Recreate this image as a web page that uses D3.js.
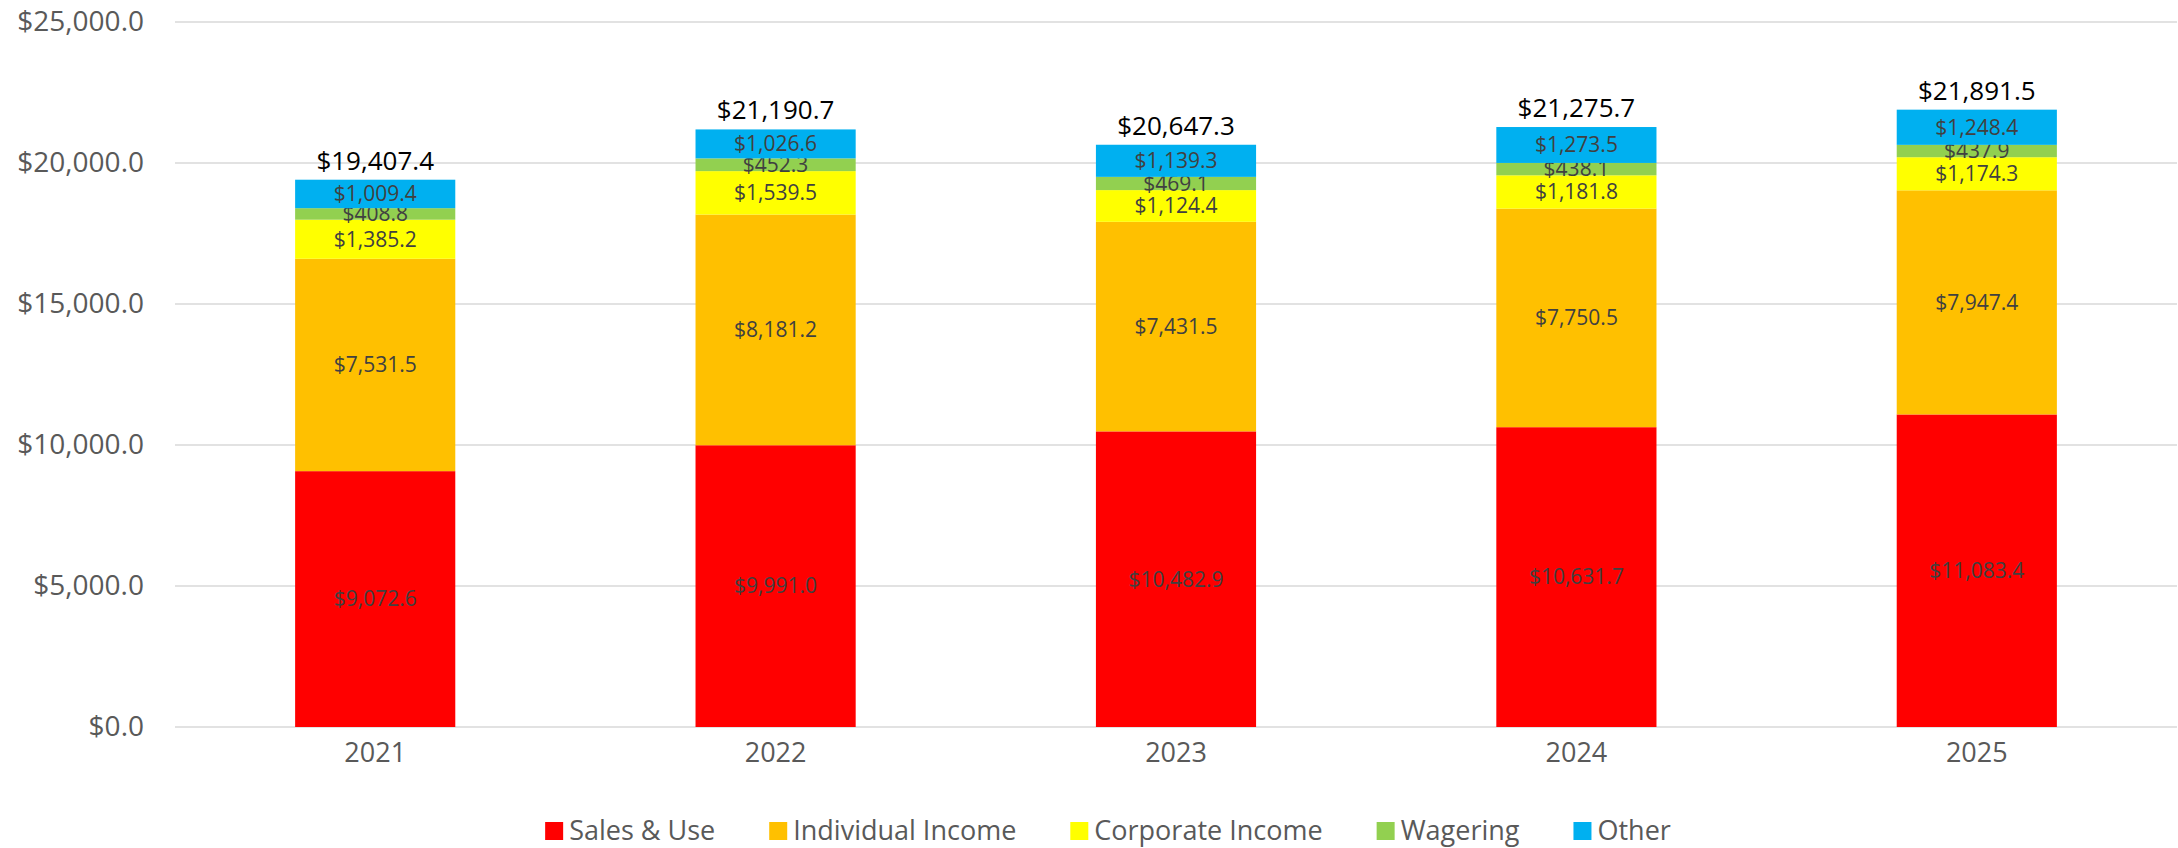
<!DOCTYPE html>
<html>
<head>
<meta charset="utf-8">
<script src="https://cdn.jsdelivr.net/npm/d3@7"></script>
<style>
  body { margin: 0; background: #fff; }
  svg { display: block; font-family: "Open Sans", sans-serif; }
</style>
</head>
<body>
<svg id="chart" width="2178" height="848"></svg>
<script>
const years = ["2021", "2022", "2023", "2024", "2025"];
const seriesNames = ["Sales & Use", "Individual Income", "Corporate Income", "Wagering", "Other"];
const colors = ["#ff0000", "#ffc000", "#ffff00", "#92d050", "#00b0f0"];
const salesUse = [9072.6, 9991.0, 10482.9, 10631.7, 11083.4];
const individualIncome = [7531.5, 8181.2, 7431.5, 7750.5, 7947.4];
const corporateIncome = [1385.2, 1539.5, 1124.4, 1181.8, 1174.3];
const wagering = [408.8, 452.3, 469.1, 438.1, 437.9];
const other = [1009.4, 1026.6, 1139.3, 1273.5, 1248.4];
const totals = [19407.4, 21190.7, 20647.3, 21275.7, 21891.5];
const yTicks = [0, 5000, 10000, 15000, 20000, 25000];

const svg = d3.select("#chart"),
    margin = {top: 22, right: 1, bottom: 121, left: 175},
    width = +svg.attr("width") - margin.left - margin.right,
    height = +svg.attr("height") - margin.top - margin.bottom;

const fmt = d3.format("$,.1f");

const table = years.map((yr, i) => ({
  year: yr,
  "Sales & Use": salesUse[i],
  "Individual Income": individualIncome[i],
  "Corporate Income": corporateIncome[i],
  "Wagering": wagering[i],
  "Other": other[i],
  total: totals[i]
}));

const stack = d3.stack().keys(seriesNames)(table);

const x = d3.scaleBand().domain(years).range([0, width]).paddingInner(0.6).paddingOuter(0.3);
const y = d3.scaleLinear().domain([0, 25000]).range([height, 0]);
const z = d3.scaleOrdinal().domain(seriesNames).range(colors);

const g = svg.append("g").attr("transform", "translate(" + margin.left + "," + margin.top + ")");

// gridlines
g.append("g")
  .selectAll("line")
  .data(yTicks)
  .enter().append("line")
  .attr("x1", 0).attr("x2", width)
  .attr("y1", d => y(d)).attr("y2", d => y(d))
  .attr("stroke", "#d9d9d9")
  .attr("stroke-width", 1.5);

// y axis
const yAxis = g.append("g")
  .call(d3.axisLeft(y).tickValues(yTicks).tickFormat(fmt).tickSize(0).tickPadding(31));
yAxis.select(".domain").remove();
yAxis.selectAll("text")
  .style("font-family", "'Open Sans', sans-serif")
  .style("font-size", "28px")
  .attr("fill", "#595959");

// x axis
const xAxis = g.append("g")
  .attr("transform", "translate(0," + height + ")")
  .call(d3.axisBottom(x).tickSize(0).tickPadding(16));
xAxis.select(".domain").remove();
xAxis.selectAll("text")
  .style("font-family", "'Open Sans', sans-serif")
  .style("font-size", "27px")
  .attr("fill", "#595959");

// bars
const layer = g.selectAll(".layer")
  .data(stack)
  .enter().append("g")
  .attr("class", "layer")
  .attr("fill", d => z(d.key));

layer.selectAll("rect")
  .data(d => d)
  .enter().append("rect")
  .attr("x", d => x(d.data.year))
  .attr("width", x.bandwidth())
  .attr("y", d => y(d[1]))
  .attr("height", d => y(d[0]) - y(d[1]));

layer.selectAll("text")
  .data(d => d.map(p => ({p: p, key: d.key})))
  .enter().append("text")
  .attr("x", d => x(d.p.data.year) + x.bandwidth() / 2)
  .attr("y", d => (y(d.p[0]) + y(d.p[1])) / 2)
  .attr("dy", "0.35em")
  .attr("text-anchor", "middle")
  .attr("fill", "#404040")
  .style("font-size", "21px")
  .text(d => fmt(d.p.data[d.key]));

// totals
g.selectAll(".total")
  .data(table)
  .enter().append("text")
  .attr("class", "total")
  .attr("x", d => x(d.year) + x.bandwidth() / 2)
  .attr("y", d => y(d.total) - 10)
  .attr("text-anchor", "middle")
  .attr("fill", "#000")
  .style("font-size", "26px")
  .text(d => fmt(d.total));

// legend
const legend = svg.append("g").attr("class", "legend");
const gap = 54;
let lx = 0;
seriesNames.forEach((name, i) => {
  const item = legend.append("g").attr("transform", "translate(" + lx + ",0)");
  item.append("rect")
    .attr("x", 0).attr("y", -9)
    .attr("width", 18).attr("height", 18)
    .attr("fill", colors[i]);
  const t = item.append("text")
    .attr("x", 24)
    .attr("dy", "0.35em")
    .attr("fill", "#595959")
    .style("font-size", "27px")
    .text(name);
  lx += 24 + t.node().getComputedTextLength() + gap;
});
const legendWidth = lx - gap;
legend.attr("transform", "translate(" + (1108 - legendWidth / 2) + ",831)");
</script>
</body>
</html>
